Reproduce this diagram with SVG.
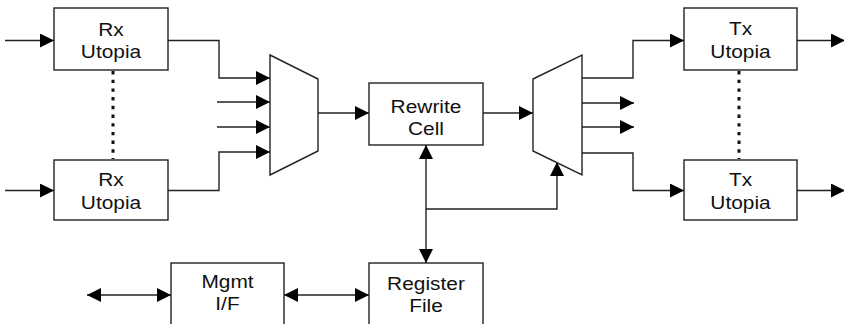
<svg xmlns="http://www.w3.org/2000/svg" width="844" height="324" viewBox="0 0 844 324">
<defs>
<style>
.box{fill:#fff;stroke:#222;stroke-width:1.4}
.mux{fill:#fff;stroke:#222;stroke-width:1.4}
.ln{fill:none;stroke:#222;stroke-width:1.4}
.dot{fill:none;stroke:#111;stroke-width:3;stroke-dasharray:3.4 5.3}
.lbl{font-family:"Liberation Sans",Arial,sans-serif;font-size:18.5px;fill:#111;text-anchor:middle}
</style>
<marker id="ah" markerUnits="userSpaceOnUse" markerWidth="14" markerHeight="14" refX="14" refY="7" orient="auto-start-reverse" viewBox="0 0 14 14">
<path d="M0,0 L14,7 L0,14 Z" fill="#000"/>
</marker>
</defs>
<rect width="844" height="324" fill="#fff"/>
<g id="connectors">
<path class="ln" d="M5,40.5 H54" marker-end="url(#ah)"/>
<path class="ln" d="M5,190.5 H54" marker-end="url(#ah)"/>
<path class="ln" d="M168,40.5 H219 V78 H270" marker-end="url(#ah)"/>
<path class="ln" d="M217,102 H270" marker-end="url(#ah)"/>
<path class="ln" d="M217,127 H270" marker-end="url(#ah)"/>
<path class="ln" d="M168,190.5 H219 V152 H270" marker-end="url(#ah)"/>
<path class="ln" d="M318,113 H369" marker-end="url(#ah)"/>
<path class="ln" d="M483,113 H533" marker-end="url(#ah)"/>
<path class="ln" d="M582,78 H633 V40.5 H684" marker-end="url(#ah)"/>
<path class="ln" d="M582,103 H634" marker-end="url(#ah)"/>
<path class="ln" d="M582,127 H634" marker-end="url(#ah)"/>
<path class="ln" d="M582,153 H633 V190.5 H684" marker-end="url(#ah)"/>
<path class="ln" d="M797,40.5 H845" marker-end="url(#ah)"/>
<path class="ln" d="M797,190.5 H845" marker-end="url(#ah)"/>
<path class="ln" d="M426,145 V263" marker-start="url(#ah)" marker-end="url(#ah)"/>
<path class="ln" d="M426,209 H557 V162" marker-end="url(#ah)"/>
<path class="ln" d="M87,295 H171" marker-start="url(#ah)" marker-end="url(#ah)"/>
<path class="ln" d="M284,295 H369" marker-start="url(#ah)" marker-end="url(#ah)"/>
<path class="dot" d="M113,71 V159"/>
<path class="dot" d="M739,71 V159"/>
</g>
<g id="rx1">
<rect class="box" x="54" y="8" width="114" height="62"/>
<text class="lbl" transform="translate(111,0) scale(1.13,1)"><tspan x="0" y="36">Rx</tspan><tspan x="0" y="58">Utopia</tspan></text>
</g>
<g id="rx2">
<rect class="box" x="54" y="160" width="114" height="60"/>
<text class="lbl" transform="translate(111,0) scale(1.13,1)"><tspan x="0" y="186">Rx</tspan><tspan x="0" y="209">Utopia</tspan></text>
</g>
<g id="mux">
<polygon class="mux" points="270,55 318,79 318,151 270,175"/>
</g>
<g id="rewrite">
<rect class="box" x="369" y="83" width="114" height="62"/>
<text class="lbl" transform="translate(426,0) scale(1.13,1)"><tspan x="0" y="113.5">Rewrite</tspan><tspan x="0" y="135.3">Cell</tspan></text>
</g>
<g id="demux">
<polygon class="mux" points="533,79 582,55 582,175 533,151"/>
</g>
<g id="tx1">
<rect class="box" x="684" y="8" width="113" height="62"/>
<text class="lbl" transform="translate(740.5,0) scale(1.13,1)"><tspan x="0" y="35.5">Tx</tspan><tspan x="0" y="58">Utopia</tspan></text>
</g>
<g id="tx2">
<rect class="box" x="684" y="160" width="113" height="60"/>
<text class="lbl" transform="translate(740.5,0) scale(1.13,1)"><tspan x="0" y="186">Tx</tspan><tspan x="0" y="209">Utopia</tspan></text>
</g>
<g id="mgmt">
<rect class="box" x="171" y="263" width="113" height="70"/>
<text class="lbl" transform="translate(227.5,0) scale(1.13,1)"><tspan x="0" y="288.5">Mgmt</tspan><tspan x="0" y="310">I/F</tspan></text>
</g>
<g id="register">
<rect class="box" x="369" y="263" width="114" height="70"/>
<text class="lbl" transform="translate(426,0) scale(1.13,1)"><tspan x="0" y="290">Register</tspan><tspan x="0" y="311.7">File</tspan></text>
</g>
</svg>
